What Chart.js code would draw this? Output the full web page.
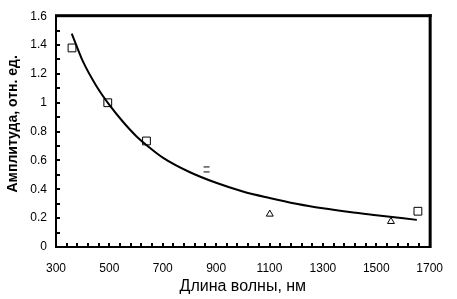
<!DOCTYPE html>
<html>
<head>
<meta charset="utf-8">
<script src="https://cdn.jsdelivr.net/npm/chart.js@4"></script>
<style>
  html, body { margin: 0; padding: 0; background: #fff; }
  #wrap { width: 457px; height: 299px; }
</style>
</head>
<body>
<div id="wrap"><canvas id="myChart" width="457" height="299"></canvas></div>
<script>
// measured points
var sqX = [360, 494, 639, 1656];
var sqY = [1.38, 1.0, 0.735, 0.248];
var triX = [1101, 1555];
var triY = [0.228, 0.177];
var dashX = [864];
var dashY = [0.538];
// fitted curve
var fitX = [359, 400, 450, 500, 550, 600, 650, 700, 800, 900, 1000, 1100, 1200, 1300, 1400, 1500, 1652];
var fitY = [1.48, 1.29, 1.12, 0.985, 0.87, 0.77, 0.69, 0.62, 0.52, 0.445, 0.385, 0.34, 0.30, 0.268, 0.242, 0.22, 0.188];
var xTicks = [300, 500, 700, 900, 1100, 1300, 1500, 1700];
var yTicks = [0, 0.2, 0.4, 0.6, 0.8, 1, 1.2, 1.4, 1.6];

function pts(xs, ys) {
    return xs.map(function (x, i) { return { x: x, y: ys[i] }; });
}

// "=" marker
var eq = document.createElement('canvas');
eq.width = 8; eq.height = 8;
var ec = eq.getContext('2d');
ec.fillStyle = '#000';
ec.fillRect(1, 1, 6, 1);
ec.fillRect(1, 6, 6, 1);

var framePlugin = {
    id: 'frame',
    beforeDatasetsDraw: function (chart) {
        var ctx = chart.ctx, a = chart.chartArea;
        var xs = chart.scales.x, ys = chart.scales.y;
        ctx.save();
        ctx.fillStyle = '#000';
        // minor ticks pointing inward
        for (var v = 300; v <= 1700; v += 40) {
            var px = Math.round(xs.getPixelForValue(v));
            ctx.fillRect(px - 1, a.bottom - 4, 2, 4);
        }
        for (var k = 0; k <= 16; k++) {
            var py = Math.round(ys.getPixelForValue(k / 10));
            ctx.fillRect(a.left, py - 1, 4, 2);
        }
        // axes and frame
        ctx.fillRect(a.left - 1, a.top - 1, 2, a.bottom - a.top + 2);
        ctx.fillRect(a.left - 1, a.bottom - 1, a.right - a.left + 2, 2);
        ctx.fillRect(a.left - 1, a.top - 2, a.right - a.left + 3, 3);
        ctx.fillRect(a.right - 1, a.top - 2, 3, a.bottom - a.top + 3);
        ctx.restore();
    }
};

var ctx = document.getElementById('myChart').getContext('2d');
var myChart = new Chart(ctx, {
    type: 'scatter',
    data: {
        datasets: [
            {
                label: 'fit', data: pts(fitX, fitY), showLine: true, cubicInterpolationMode: 'monotone',
                borderColor: '#000', borderWidth: 2, pointRadius: 0, fill: false
            },
            {
                label: 'sq', data: pts(sqX, sqY), pointStyle: 'rect', pointRadius: 5.5,
                backgroundColor: '#fff', borderColor: '#000', borderWidth: 1
            },
            {
                label: 'tri', data: pts(triX, triY), pointStyle: 'triangle', pointRadius: 4,
                backgroundColor: '#fff', borderColor: '#000', borderWidth: 1
            },
            {
                label: 'dash', data: pts(dashX, dashY), pointStyle: eq, pointRadius: 4
            }
        ]
    },
    options: {
        responsive: false,
        animation: false,
        events: [],
        layout: { padding: { top: 12, right: 19, left: 0, bottom: 0 } },
        plugins: { legend: { display: false }, tooltip: { enabled: false } },
        scales: {
            x: {
                type: 'linear', min: 300, max: 1700,
                afterBuildTicks: function (s) { s.ticks = xTicks.map(function (v) { return { value: v }; }); },
                afterFit: function (s) { s.height = 52; },
                grid: { display: false, drawTicks: false },
                border: { display: false },
                ticks: {
                    color: '#000', padding: 14, maxRotation: 0,
                    font: { family: 'Liberation Sans, Arial', size: 12 },
                    callback: function (v) { return String(v); }
                },
                title: {
                    display: true, text: 'Длина волны, нм', color: '#000',
                    font: { family: 'Liberation Sans, Arial', size: 16 },
                    padding: { top: 0, bottom: 3 }
                }
            },
            y: {
                type: 'linear', min: 0, max: 1.6,
                afterBuildTicks: function (s) { s.ticks = yTicks.map(function (v) { return { value: v }; }); },
                afterFit: function (s) { s.width = 56; },
                grid: { display: false, drawTicks: false },
                border: { display: false },
                ticks: {
                    color: '#000', padding: 9,
                    font: { family: 'Liberation Sans, Arial', size: 12 },
                    callback: function (v) { return String(Math.round(v * 10) / 10); }
                },
                title: {
                    display: true, text: '    Амплитуда, отн. ед.', color: '#000',
                    font: { family: 'Liberation Sans, Arial', size: 14, weight: 'bold' },
                    padding: { top: 5, bottom: 0 }
                }
            }
        }
    },
    plugins: [framePlugin]
});
</script>
</body>
</html>
